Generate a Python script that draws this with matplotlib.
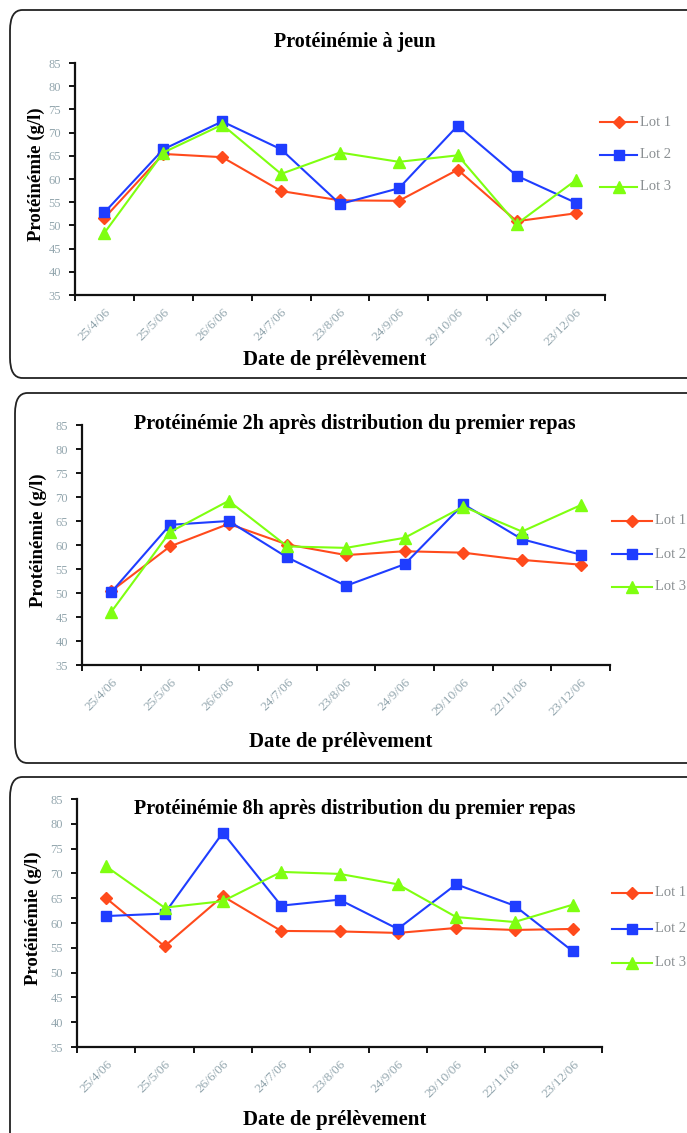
import matplotlib
matplotlib.use("Agg")
import matplotlib.pyplot as plt
from matplotlib.patches import FancyBboxPatch
from matplotlib.lines import Line2D

W, H = 687, 1133

dates = ["25/4/06", "25/5/06", "26/6/06", "24/7/06", "23/8/06",
         "24/9/06", "29/10/06", "22/11/06", "23/12/06"]

# Protéinémie à jeun
jeun_lot1 = [51.6, 65.4, 64.7, 57.4, 55.4, 55.3, 62.0, 50.9, 52.6]
jeun_lot2 = [52.8, 66.4, 72.4, 66.4, 54.6, 58.0, 71.5, 60.7, 54.9]
jeun_lot3 = [48.4, 65.7, 71.7, 61.1, 65.7, 63.7, 65.1, 50.3, 59.7]

# Protéinémie 2h après le premier repas
h2_lot1 = [50.4, 59.7, 64.4, 60.1, 57.9, 58.7, 58.4, 56.9, 55.9]
h2_lot2 = [50.2, 64.2, 65.0, 57.4, 51.5, 56.0, 68.5, 61.2, 58.0]
h2_lot3 = [46.1, 62.7, 69.2, 59.7, 59.4, 61.5, 68.0, 62.8, 68.3]

# Protéinémie 8h après le premier repas
h8_lot1 = [65.0, 55.3, 65.4, 58.4, 58.3, 58.0, 59.0, 58.6, 58.8]
h8_lot2 = [61.4, 61.9, 78.2, 63.5, 64.7, 58.8, 67.8, 63.5, 54.3]
h8_lot3 = [71.4, 63.1, 64.4, 70.3, 69.9, 67.8, 61.2, 60.2, 63.7]

lot_names = ["Lot 1", "Lot 2", "Lot 3"]
lot_colors = ["#FF4A1C", "#1F3DFF", "#7FFF10"]
lot_markers = ["D", "s", "^"]
lot_msizes = [6.5, 7.5, 8]

serif = ["Liberation Serif", "DejaVu Serif"]
tick_color = "#93A6AE"

fig = plt.figure(figsize=(W / 100, H / 100), dpi=100)


def fx(px):
    return px / W


def fy(py):
    return 1 - py / H


panels = [
    dict(title="Protéinémie à jeun", data=(jeun_lot1, jeun_lot2, jeun_lot3),
         box=(10, 10, 720, 378), ax=(75, 63, 605, 295), title_xy=(355, 42),
         leg_x=(600, 637, 640), leg_y=(122, 155, 187), xlab_y=360, ylab_x=36),
    dict(title="Protéinémie 2h après distribution du premier repas",
         data=(h2_lot1, h2_lot2, h2_lot3),
         box=(15, 393, 720, 763), ax=(82, 425, 610, 665), title_xy=(355, 424),
         leg_x=(612, 652, 655), leg_y=(521, 554, 587), xlab_y=742, ylab_x=38),
    dict(title="Protéinémie 8h après distribution du premier repas",
         data=(h8_lot1, h8_lot2, h8_lot3),
         box=(10, 777, 720, 1160), ax=(77, 799, 602, 1047), title_xy=(355, 809),
         leg_x=(612, 652, 655), leg_y=(893, 929, 963), xlab_y=1120, ylab_x=33),
]

for p in panels:
    # rounded frame around each chart
    x0, y0, x1, y1 = p["box"]
    frame = FancyBboxPatch((fx(x0), fy(y1)), fx(x1 - x0), (y1 - y0) / H,
                           boxstyle="round,pad=0,rounding_size=0.018",
                           transform=fig.transFigure, facecolor="none",
                           edgecolor="#222222", linewidth=1.3, zorder=-1)
    fig.patches.append(frame)

    l, t, r, b = p["ax"]
    ax = fig.add_axes([fx(l), fy(b), fx(r - l), (b - t) / H])
    ax.set_facecolor("none")
    xs = list(range(len(dates)))
    for vals, c, m, ms in zip(p["data"], lot_colors, lot_markers, lot_msizes):
        ax.plot(xs, vals, color=c, marker=m, markersize=ms, linewidth=1.5,
                markeredgecolor=c, clip_on=False)
    ax.set_xlim(-0.5, len(dates) - 0.5)
    ax.set_ylim(35, 85)
    ax.set_yticks(range(35, 90, 5))
    ax.set_xticks([i - 0.5 for i in range(len(dates) + 1)])
    ax.set_xticklabels([])
    ax.set_xticks(xs, minor=True)
    ax.set_xticklabels(dates, minor=True, rotation=45, ha="right", va="top",
                       rotation_mode="anchor", fontsize=9.5, color=tick_color,
                       family=serif)
    ax.tick_params(axis="x", which="minor", length=0, pad=8)
    ax.tick_params(axis="x", which="major", length=4, width=1.3, direction="out")
    ax.tick_params(axis="y", length=4, width=1.3, direction="out",
                   labelsize=9, labelcolor=tick_color, pad=6)
    for lab in ax.get_yticklabels():
        lab.set_family(serif)
    for s in ("top", "right"):
        ax.spines[s].set_visible(False)
    for s in ("left", "bottom"):
        ax.spines[s].set_linewidth(1.6)
        ax.spines[s].set_color("#111111")

    fig.text(fx(p["title_xy"][0]), fy(p["title_xy"][1]), p["title"],
             ha="center", va="center", fontsize=14.5, fontweight="bold",
             family=serif)
    fig.text(fx((l + r) / 2 - 5), fy(p["xlab_y"]), "Date de prélèvement",
             ha="center", va="center", fontsize=15, fontweight="bold",
             family=serif)
    fig.text(fx(p["ylab_x"]), fy((t + b) / 2 - 5), "Protéinémie (g/l)",
             ha="center", va="center", rotation=90, fontsize=13.5,
             fontweight="bold", family=serif)

    # legend drawn beside the plot area
    lx0, lx1, ltx = p["leg_x"]
    for ly, name, c, m, ms in zip(p["leg_y"], lot_names, lot_colors,
                                  lot_markers, lot_msizes):
        fig.add_artist(Line2D([fx(lx0), fx(lx1)], [fy(ly), fy(ly)],
                              transform=fig.transFigure, color=c,
                              linewidth=1.5))
        fig.add_artist(Line2D([fx((lx0 + lx1) / 2)], [fy(ly)],
                              transform=fig.transFigure, color=c, marker=m,
                              markersize=ms, markeredgecolor=c))
        fig.text(fx(ltx), fy(ly), name, ha="left", va="center", fontsize=10.5,
                 color="#8A8F92", family=serif)

fig.savefig("out.png", dpi=100, facecolor="white")
